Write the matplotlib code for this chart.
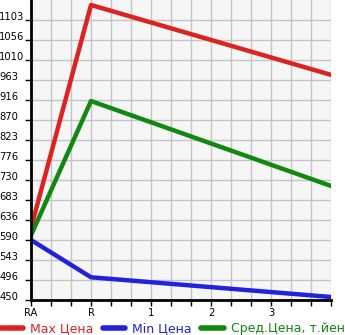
import numpy as np
import matplotlib
matplotlib.use("Agg")
import matplotlib.pyplot as plt
from matplotlib.ticker import MultipleLocator

# chart data
x_labels = ["RA", "R", "1", "2", "3", ""]
x_pos = [0, 1, 5]
max_price = [618, 1138, 975]
min_price = [590, 503, 457]
avg_price = [601, 914, 716]
y_ticks = [450, 496, 543, 590, 636, 683, 730, 776, 823, 870, 916, 963, 1010, 1056, 1103]

fig = plt.figure(figsize=(3.45, 3.35), dpi=100)
ax = fig.add_axes([31 / 345, 35 / 335, 300 / 345, 300 / 335])
ax.set_facecolor("#f6f6f6")

step = (y_ticks[-1] - y_ticks[0]) / 14
ax.set_ylim(y_ticks[0], y_ticks[-1] + step)
ax.set_xlim(0, 5)

ax.set_yticks(np.linspace(y_ticks[0], y_ticks[-1], len(y_ticks)))
ax.set_yticklabels([str(v) for v in y_ticks])
ax.set_xticks(range(len(x_labels)))
ax.set_xticklabels(x_labels)
ax.xaxis.set_minor_locator(MultipleLocator(1 / 3))

ax.grid(True, which="both", color="#c4c4c4", linewidth=1)
ax.set_axisbelow(True)
ax.tick_params(axis="y", length=4, width=1, labelsize=7.2, pad=18.8)
for lbl in ax.get_yticklabels():
    lbl.set_horizontalalignment("left")
    lbl.set_verticalalignment("baseline")
ax.tick_params(axis="x", which="both", length=4, width=1, labelsize=7.2, pad=2)
for side in ("top", "right"):
    ax.spines[side].set_visible(False)
for side in ("left", "bottom"):
    ax.spines[side].set_linewidth(2)

ax.plot(x_pos, max_price, color="#dd2222", lw=3.2, solid_capstyle="round", label="Max Цена")
ax.plot(x_pos, min_price, color="#2222dd", lw=3.2, solid_capstyle="round", label="Min Цена")
ax.plot(x_pos, avg_price, color="#118811", lw=3.2, solid_capstyle="round", label="Сред.Цена, т.йен")

leg = fig.legend(loc="lower left", bbox_to_anchor=(-0.005, -0.008), ncol=3, frameon=False,
                 fontsize=9, handlelength=1.8, columnspacing=0.75, handletextpad=0.55,
                 borderaxespad=0, borderpad=0.2)
for text, line in zip(leg.get_texts(), leg.get_lines()):
    text.set_color(line.get_color())
    line.set_linewidth(4)

fig.savefig("out.png", dpi=100)
